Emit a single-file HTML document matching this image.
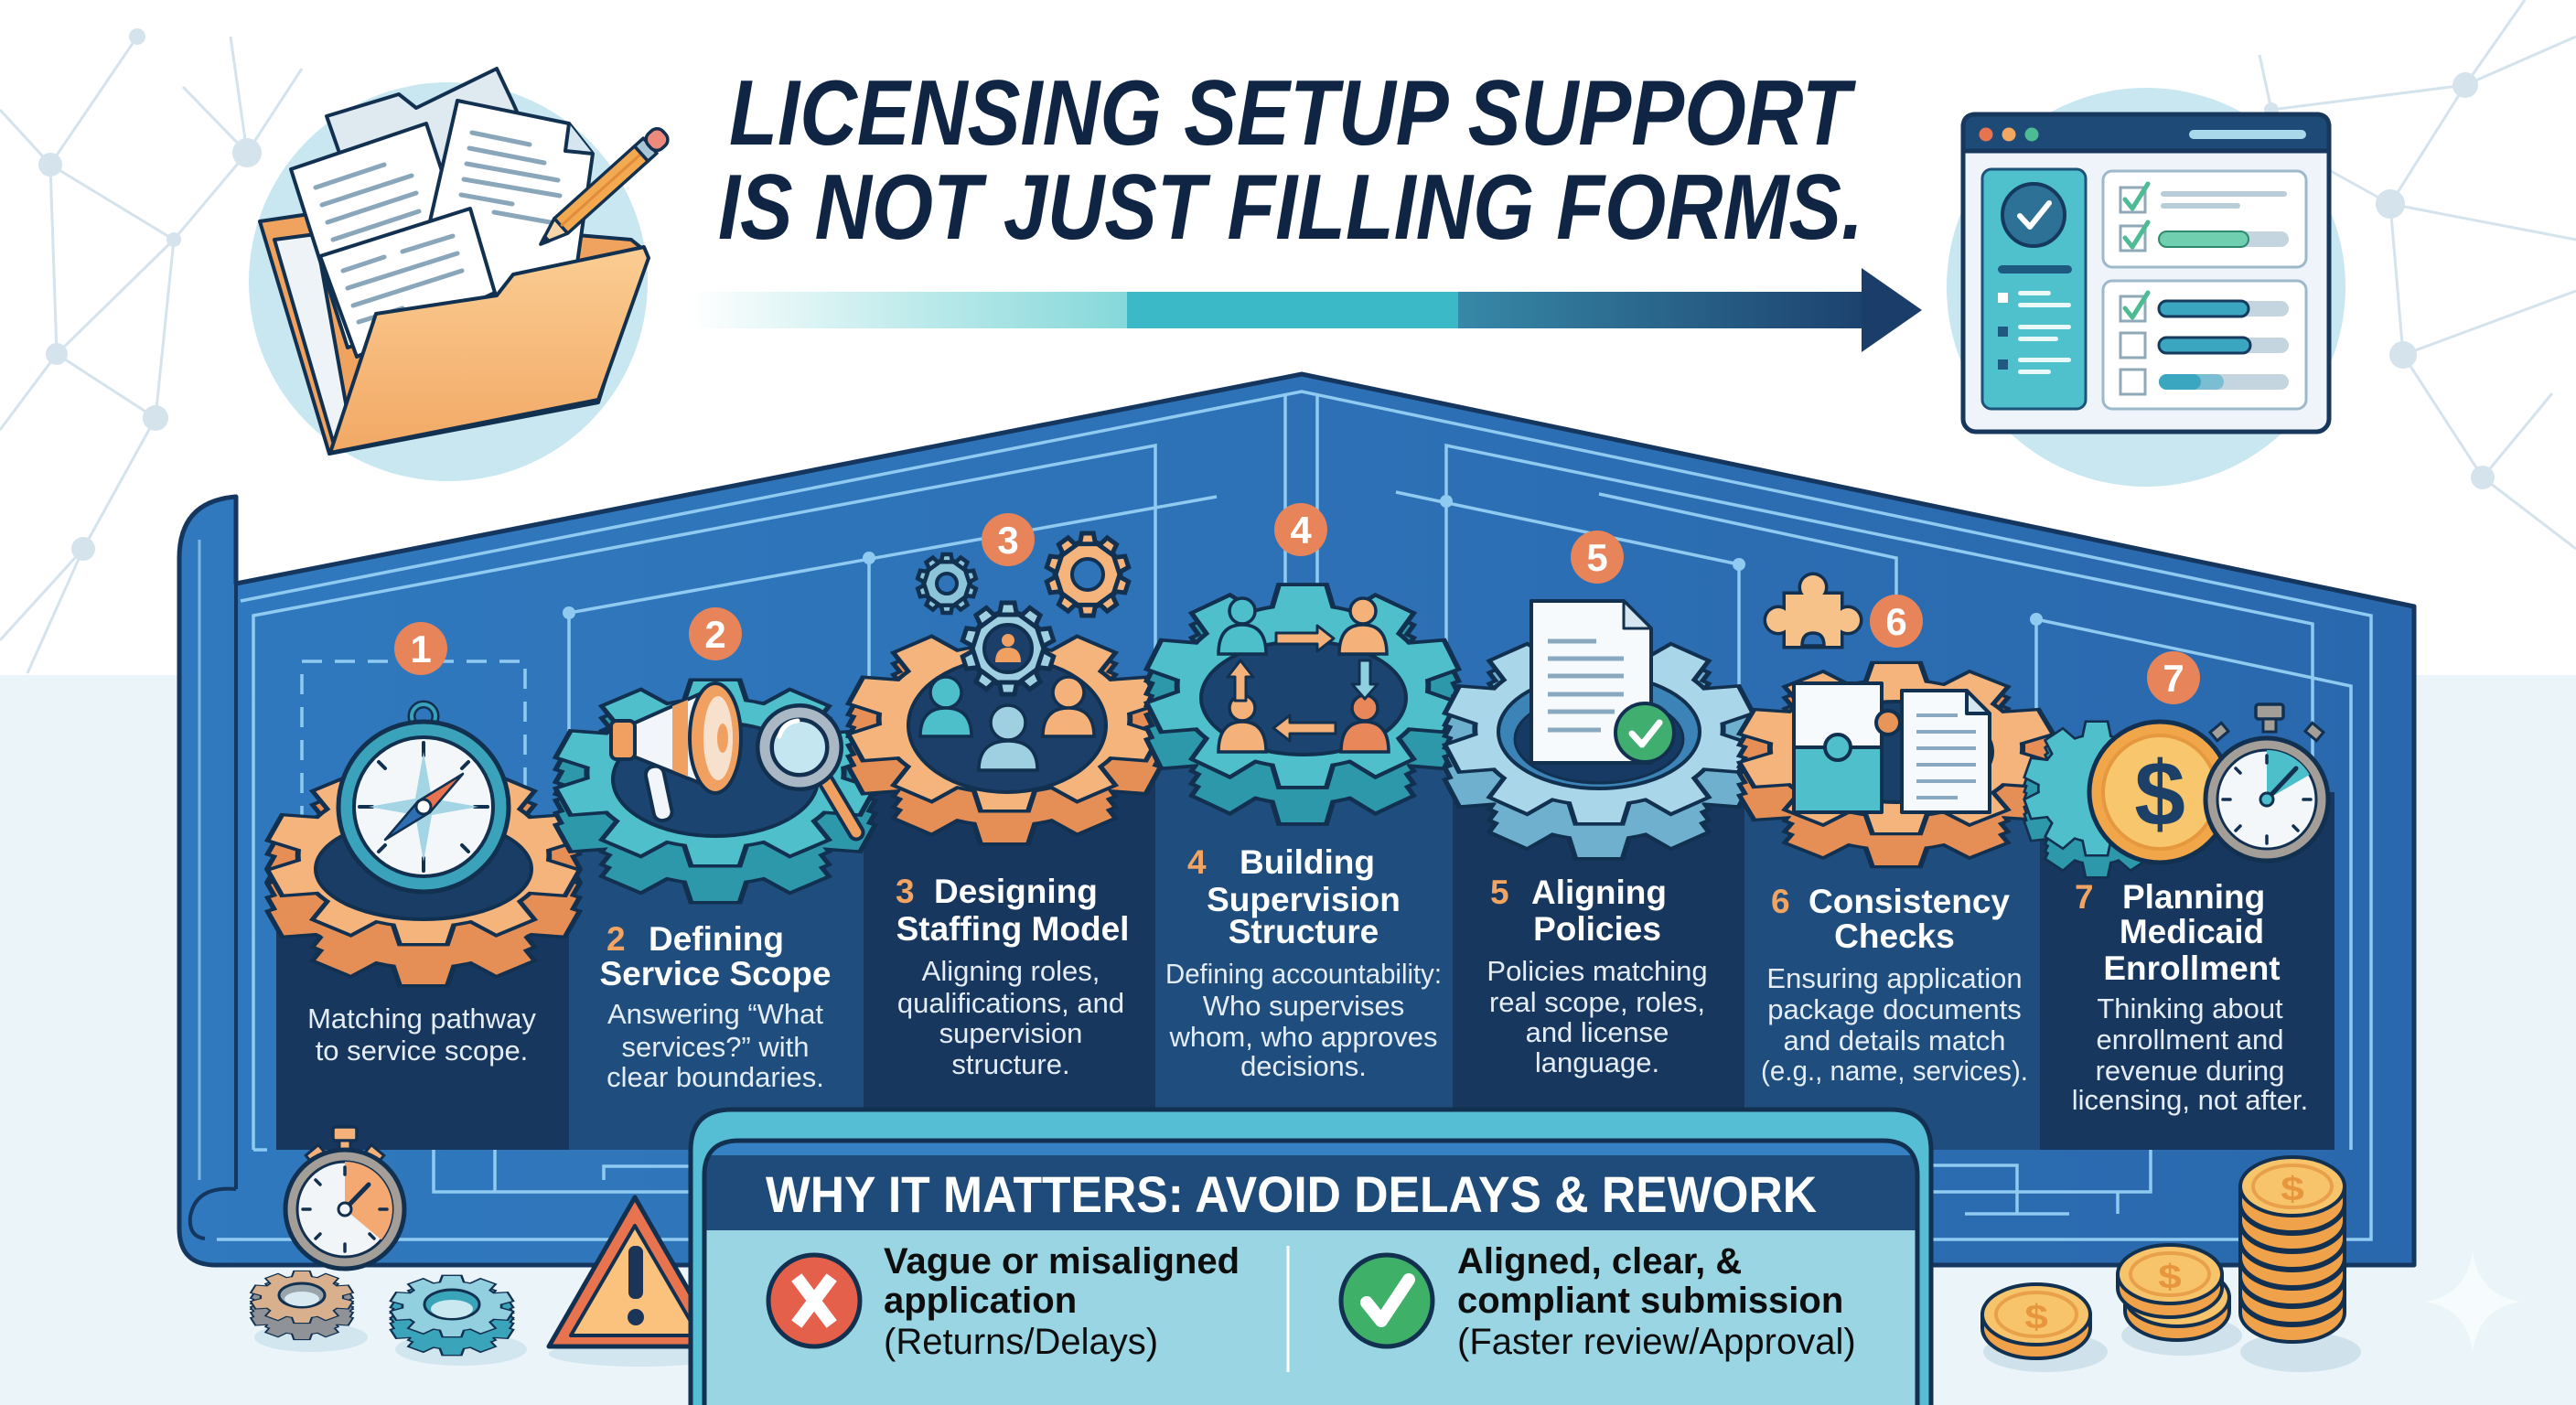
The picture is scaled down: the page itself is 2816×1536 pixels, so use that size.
<!DOCTYPE html>
<html><head><meta charset="utf-8">
<style>
html,body{margin:0;padding:0;background:#fff;width:2816px;height:1536px;overflow:hidden;}
svg{display:block;}
text{font-family:"Liberation Sans",Arial,sans-serif;}
.tt{font-weight:bold;font-size:37px;fill:#ffffff;}
.tm{text-anchor:middle;}
.num{fill:#f2a462;}
.bd{font-size:31px;fill:#e4edf5;text-anchor:middle;}
.bg{font-weight:bold;font-size:40px;fill:#0d0d0d;}
.br{font-size:40px;fill:#0d0d0d;}
.badge{font-weight:bold;font-size:42px;fill:#fff;text-anchor:middle;}
</style></head>
<body>
<svg width="2816" height="1536" viewBox="0 0 2816 1536" xmlns="http://www.w3.org/2000/svg">
<defs>
 <g id="gear">
  <circle r="80"/>
  <polygon points="-14,-100 14,-100 19,-74 -19,-74"/>
  <polygon points="-14,-100 14,-100 19,-74 -19,-74" transform="rotate(36)"/>
  <polygon points="-14,-100 14,-100 19,-74 -19,-74" transform="rotate(72)"/>
  <polygon points="-14,-100 14,-100 19,-74 -19,-74" transform="rotate(108)"/>
  <polygon points="-14,-100 14,-100 19,-74 -19,-74" transform="rotate(144)"/>
  <polygon points="-14,-100 14,-100 19,-74 -19,-74" transform="rotate(180)"/>
  <polygon points="-14,-100 14,-100 19,-74 -19,-74" transform="rotate(216)"/>
  <polygon points="-14,-100 14,-100 19,-74 -19,-74" transform="rotate(252)"/>
  <polygon points="-14,-100 14,-100 19,-74 -19,-74" transform="rotate(288)"/>
  <polygon points="-14,-100 14,-100 19,-74 -19,-74" transform="rotate(324)"/>
 </g>
 <linearGradient id="fadeA" x1="755" y1="0" x2="1232" y2="0" gradientUnits="userSpaceOnUse">
  <stop offset="0" stop-color="#7fd6d8" stop-opacity="0"/>
  <stop offset="1" stop-color="#85d8da"/>
 </linearGradient>
 <linearGradient id="fadeB" x1="1594" y1="0" x2="2040" y2="0" gradientUnits="userSpaceOnUse">
  <stop offset="0" stop-color="#3788a8"/>
  <stop offset="1" stop-color="#1c426e"/>
 </linearGradient>
 <linearGradient id="panelG" x1="196" y1="0" x2="2640" y2="0" gradientUnits="userSpaceOnUse">
  <stop offset="0" stop-color="#3079be"/>
  <stop offset="1" stop-color="#2a68ad"/>
 </linearGradient>
 <linearGradient id="flapG" x1="0" y1="0" x2="0" y2="1">
  <stop offset="0" stop-color="#fbcd93"/>
  <stop offset="1" stop-color="#f2a865"/>
 </linearGradient>
 <clipPath id="boxclip"><path d="M770,1536 L770,1285 Q770,1247 808,1247 L2058,1247 Q2096,1247 2096,1285 L2096,1536 Z"/></clipPath>
</defs>

<!-- background -->
<rect width="2816" height="1536" fill="#ffffff"/>
<rect y="738" width="2816" height="798" fill="#eaf4f9"/>

<!-- network decoration -->
<g stroke="#d5e3ed" stroke-width="3" fill="none">
 <path d="M0,120 L55,180 L150,40 M55,180 L62,387 L170,457 L91,600 L0,700 M62,387 L0,470 M270,167 L200,95 M270,167 L252,40 M270,167 L330,75 M270,167 L190,262 L62,387 M190,262 L170,457 M55,180 L190,262 M91,600 L30,736"/>
 <path d="M2483,120 L2695,93 L2816,40 M2695,93 L2613,223 L2816,262 M2613,223 L2548,187 M2613,223 L2627,388 L2816,318 M2627,388 L2714,522 L2816,600 M2714,522 L2790,430 M2695,93 L2760,0 M2483,120 L2470,60"/>
</g>
<g fill="#d5e3ed">
 <circle cx="55" cy="180" r="13"/><circle cx="270" cy="167" r="16"/><circle cx="62" cy="387" r="12"/>
 <circle cx="170" cy="457" r="14"/><circle cx="91" cy="600" r="13"/><circle cx="150" cy="40" r="9"/><circle cx="190" cy="262" r="8"/>
 <circle cx="2695" cy="93" r="14"/><circle cx="2613" cy="223" r="16"/><circle cx="2627" cy="388" r="15"/>
 <circle cx="2714" cy="522" r="13"/><circle cx="2483" cy="120" r="8"/>
</g>

<!-- folder icon -->
<circle cx="490" cy="308" r="218" fill="#c8e7f0"/>
<g stroke="#12304f" stroke-width="4" stroke-linejoin="round">
 <polygon points="284,242 345,233 690,262 706,275 654,440 360,496" fill="#f0a35f"/>
 <polygon points="300,262 345,256 385,480 365,486" fill="#eef3f7"/>
 <polygon points="357,127 436,103 455,118 543,75 561,113 600,200 400,250" fill="#dfe9f0"/>
 <polygon points="318,185 466,135 530,330 380,380" fill="#ffffff"/>
 <polygon points="500,110 622,135 648,168 625,330 450,330" fill="#ffffff"/>
 <polyline points="622,135 618,165 648,168" fill="#d6e6f0"/>
 <polygon points="350,280 514,228 541,320 390,390" fill="#ffffff"/>
</g>
<g stroke="#8aa6bb" stroke-width="5" stroke-linecap="round">
 <line x1="345" y1="205" x2="420" y2="180"/><line x1="352" y1="224" x2="450" y2="192"/>
 <line x1="358" y1="243" x2="455" y2="211"/><line x1="364" y1="262" x2="458" y2="231"/>
 <line x1="516" y1="145" x2="579" y2="158"/><line x1="513" y1="162" x2="595" y2="178"/>
 <line x1="510" y1="179" x2="610" y2="197"/><line x1="507" y1="196" x2="612" y2="214"/>
 <line x1="504" y1="213" x2="560" y2="223"/><line x1="540" y1="232" x2="618" y2="246"/>
 <line x1="375" y1="296" x2="420" y2="281"/><line x1="440" y1="275" x2="495" y2="258"/>
 <line x1="380" y1="315" x2="500" y2="277"/><line x1="386" y1="334" x2="505" y2="296"/>
 <line x1="392" y1="352" x2="440" y2="337"/>
</g>
<polygon points="411,343 543,323 561,300 704,270 709,282 654,437 361,495" fill="url(#flapG)" stroke="#12304f" stroke-width="4" stroke-linejoin="round"/>
<g transform="translate(591,267) rotate(-42)" stroke="#12304f" stroke-width="3.5" stroke-linejoin="round">
 <polygon points="0,0 30,-11 30,11" fill="#f6d5a8"/>
 <polygon points="0,0 9,-3.5 9,3.5" fill="#12304f"/>
 <rect x="30" y="-11" width="118" height="22" fill="#f3a950"/>
 <line x1="30" y1="0" x2="148" y2="0" stroke="#e08c3a" stroke-width="3"/>
 <rect x="148" y="-11" width="13" height="22" fill="#a9c6d6"/>
 <rect x="160" y="-11" width="22" height="22" rx="9" fill="#ec8a7e"/>
</g>

<!-- checklist icon -->
<circle cx="2346" cy="314" r="218" fill="#c8e7f0"/>
<rect x="2146" y="125" width="400" height="347" rx="14" fill="#eef4f9" stroke="#17385c" stroke-width="5"/>
<path d="M2146,165 L2146,139 Q2146,125 2160,125 L2532,125 Q2546,125 2546,139 L2546,165 Z" fill="#1e4a78" stroke="#17385c" stroke-width="5"/>
<circle cx="2171" cy="147" r="7.5" fill="#e8734f"/><circle cx="2196" cy="147" r="7.5" fill="#f2a860"/><circle cx="2221" cy="147" r="7.5" fill="#4dbb94"/>
<rect x="2393" y="142" width="128" height="10" rx="5" fill="#a8d8ea"/>
<rect x="2167" y="185" width="113" height="262" rx="10" fill="#4fc1cd" stroke="#1e5378" stroke-width="3"/>
<ellipse cx="2223" cy="235" rx="34" ry="34" fill="#2e7196" stroke="#163a5e" stroke-width="4"/>
<polyline points="2208,236 2219,248 2240,222" fill="none" stroke="#fff" stroke-width="6" stroke-linecap="round" stroke-linejoin="round"/>
<rect x="2184" y="290" width="81" height="9" rx="4.5" fill="#1e5a80"/>
<rect x="2184" y="320" width="11" height="11" fill="#fff"/><rect x="2184" y="357" width="11" height="11" fill="#1e5a80"/><rect x="2184" y="393" width="11" height="11" fill="#1e5a80"/>
<g fill="#eaf8fa">
 <rect x="2206" y="318" width="36" height="5" rx="2.5"/><rect x="2206" y="331" width="58" height="5" rx="2.5"/>
 <rect x="2206" y="355" width="58" height="5" rx="2.5"/><rect x="2206" y="368" width="44" height="5" rx="2.5"/>
 <rect x="2206" y="391" width="58" height="5" rx="2.5"/><rect x="2206" y="404" width="36" height="5" rx="2.5"/>
</g>
<rect x="2299" y="187" width="222" height="105" rx="10" fill="#fff" stroke="#9db9c9" stroke-width="3"/>
<rect x="2299" y="307" width="222" height="140" rx="10" fill="#fff" stroke="#9db9c9" stroke-width="3"/>
<g fill="#fff" stroke="#8fa9b8" stroke-width="3">
 <rect x="2318" y="205" width="27" height="27"/><rect x="2318" y="247" width="27" height="27"/>
 <rect x="2318" y="324" width="27" height="27"/><rect x="2318" y="364" width="27" height="27"/><rect x="2318" y="404" width="27" height="27"/>
</g>
<g fill="none" stroke="#4dbb94" stroke-width="5" stroke-linecap="round" stroke-linejoin="round">
 <polyline points="2323,218 2331,228 2348,201"/><polyline points="2323,260 2331,270 2348,243"/><polyline points="2323,337 2331,347 2348,320"/>
</g>
<rect x="2362" y="209" width="138" height="6" rx="3" fill="#b9cdd8"/><rect x="2362" y="222" width="87" height="6" rx="3" fill="#b9cdd8"/>
<rect x="2360" y="253" width="142" height="17" rx="8.5" fill="#c5d5df"/>
<rect x="2360" y="253" width="98" height="17" rx="8.5" fill="#6fcfae" stroke="#2e8a6e" stroke-width="2"/>
<rect x="2360" y="329" width="142" height="17" rx="8.5" fill="#c5d5df"/>
<rect x="2360" y="329" width="98" height="17" rx="8.5" fill="#3ba6c0" stroke="#163a5e" stroke-width="3"/>
<rect x="2360" y="369" width="142" height="17" rx="8.5" fill="#c5d5df"/>
<rect x="2360" y="369" width="100" height="17" rx="8.5" fill="#3ba6c0" stroke="#163a5e" stroke-width="3"/>
<rect x="2360" y="409" width="142" height="17" rx="8.5" fill="#c5d5df"/>
<rect x="2360" y="409" width="71" height="17" rx="8.5" fill="#7bbdd2"/>
<rect x="2360" y="409" width="46" height="17" rx="8.5" fill="#3ba6c0"/>

<!-- title -->
<text x="797" y="158" font-size="101" font-weight="bold" font-style="italic" fill="#0f2543" textLength="1226" lengthAdjust="spacingAndGlyphs">LICENSING SETUP SUPPORT</text>
<text x="785" y="261" font-size="101" font-weight="bold" font-style="italic" fill="#0f2543" textLength="1252" lengthAdjust="spacingAndGlyphs">IS NOT JUST FILLING FORMS.</text>

<!-- arrow -->
<rect x="755" y="319" width="477" height="40" fill="url(#fadeA)"/>
<rect x="1232" y="319" width="362" height="40" fill="#3cb9c6"/>
<rect x="1594" y="319" width="443" height="40" fill="url(#fadeB)"/>
<polygon points="2035,293 2101,339 2035,385" fill="#1b3d69"/>

<!-- blueprint panel -->
<path d="M196,610 Q196,548 258,543 L258,638 L1423,409 L2639,663 L2639,1383 L236,1383 Q196,1383 196,1343 Z" fill="url(#panelG)" stroke="#14365f" stroke-width="5" stroke-linejoin="round"/>
<line x1="258" y1="638" x2="258" y2="1300" stroke="#14365f" stroke-width="4"/>
<line x1="218" y1="590" x2="218" y2="1290" stroke="#7fb6e4" stroke-width="3"/>
<path d="M258,1300 Q214,1296 208,1330 Q206,1352 224,1354" fill="none" stroke="#14365f" stroke-width="4"/>
<g fill="none" stroke="#8fcaf0" stroke-width="3.5">
 <polyline points="263,657 1423,428 2592,673 2592,1355 237,1355"/>
 <line x1="1405" y1="433" x2="1405" y2="650"/><line x1="1440" y1="433" x2="1440" y2="650"/>
 <polyline points="277,1257 277,673 1263,487 1263,750"/>
 <polyline points="1581,713 1581,487 2528,682 2528,1230"/>
 <polyline points="622,900 622,670 1330,543"/>
 <line x1="950" y1="610" x2="950" y2="900"/>
 <line x1="1526" y1="538" x2="1901" y2="617"/><line x1="1901" y1="617" x2="1901" y2="880"/>
 <polyline points="1748,540 2073,610 2073,650"/>
 <polyline points="2226,900 2226,677 2570,750 2570,1257"/>
 <rect x="330" y="723" width="244" height="170" stroke-dasharray="22 14"/>
 <polyline points="277,1257 292,1257"/>
 <polyline points="474,1257 474,1303 755,1303"/><line x1="541" y1="1233" x2="541" y2="1303"/>
 <polyline points="660,1290 660,1275 755,1275"/>
 <polyline points="2110,1274 2205,1274 2205,1327"/><polyline points="2110,1303 2351,1303 2351,1257"/>
 <line x1="2315" y1="1303" x2="2315" y2="1327"/><line x1="2148" y1="1327" x2="2262" y2="1327"/>
</g>
<g fill="#8fcaf0"><circle cx="622" cy="670" r="7"/><circle cx="950" cy="610" r="7"/><circle cx="1581" cy="548" r="7"/><circle cx="1901" cy="617" r="7"/><circle cx="2226" cy="677" r="7"/></g>

<!-- columns -->
<rect x="302" y="935" width="320" height="322" fill="#17375f"/>
<rect x="622" y="845" width="322" height="412" fill="#1f4e7e"/>
<rect x="944" y="786" width="319" height="471" fill="#17375f"/>
<rect x="1263" y="750" width="325" height="507" fill="#1f4e7e"/>
<rect x="1588" y="797" width="319" height="460" fill="#17375f"/>
<rect x="1907" y="818" width="323" height="439" fill="#1f4e7e"/>
<rect x="2230" y="866" width="322" height="391" fill="#17375f"/>

<!-- GEAR 1 -->
<g fill="#12304f" stroke="#12304f" stroke-width="7">
 <use href="#gear" transform="translate(463,980) scale(1.68,0.96)"/>
 <use href="#gear" transform="translate(463,965) scale(1.68,0.96)"/>
 <use href="#gear" transform="translate(463,950) scale(1.68,0.96)"/>
</g>
<g fill="#e58f56">
 <use href="#gear" transform="translate(463,980) scale(1.68,0.96)"/>
 <use href="#gear" transform="translate(463,965) scale(1.68,0.96)"/>
 <use href="#gear" transform="translate(463,950) scale(1.68,0.96)"/>
</g>
<use href="#gear" fill="#12304f" stroke="#12304f" stroke-width="7" transform="translate(463,935) scale(1.68,0.96)"/>
<use href="#gear" fill="#f5b47c" transform="translate(463,935) scale(1.68,0.96)"/>
<ellipse cx="463" cy="950" rx="118" ry="55" fill="#1a3d66" stroke="#12304f" stroke-width="4"/>
<!-- compass -->
<circle cx="463" cy="783" r="13" fill="none" stroke="#12304f" stroke-width="9"/>
<circle cx="463" cy="783" r="13" fill="none" stroke="#3aa3bb" stroke-width="4"/>
<rect x="455" y="794" width="16" height="14" fill="#3aa3bb" stroke="#12304f" stroke-width="3"/>
<circle cx="463" cy="882" r="93" fill="#3aa3bb" stroke="#12304f" stroke-width="5"/>
<circle cx="463" cy="882" r="76" fill="#f3f7fa" stroke="#12304f" stroke-width="4"/>
<g stroke="#12304f" stroke-width="4" stroke-linecap="round">
 <line x1="463" y1="812" x2="463" y2="826"/><line x1="463" y1="938" x2="463" y2="952"/>
 <line x1="393" y1="882" x2="407" y2="882"/><line x1="519" y1="882" x2="533" y2="882"/>
 <line x1="414" y1="833" x2="421" y2="840"/><line x1="505" y1="924" x2="512" y2="931"/>
 <line x1="512" y1="833" x2="505" y2="840"/><line x1="414" y1="931" x2="421" y2="924"/>
</g>
<polygon points="463,822 472,873 523,882 472,891 463,942 454,891 403,882 454,873" fill="#a3d5e5"/>
<polygon points="506,846 470,888 457,876" fill="#e8734f" stroke="#12304f" stroke-width="2.5" stroke-linejoin="round"/>
<polygon points="421,918 457,876 470,888" fill="#2d6fb2" stroke="#12304f" stroke-width="2.5" stroke-linejoin="round"/>
<circle cx="463" cy="882" r="8" fill="#fff" stroke="#12304f" stroke-width="3"/>

<!-- GEAR 2 -->
<g fill="#12304f" stroke="#12304f" stroke-width="7">
 <use href="#gear" transform="translate(782,885) scale(1.72,1.0)"/>
 <use href="#gear" transform="translate(782,872) scale(1.72,1.0)"/>
 <use href="#gear" transform="translate(782,858) scale(1.72,1.0)"/>
</g>
<g fill="#2e98ab">
 <use href="#gear" transform="translate(782,885) scale(1.72,1.0)"/>
 <use href="#gear" transform="translate(782,872) scale(1.72,1.0)"/>
 <use href="#gear" transform="translate(782,858) scale(1.72,1.0)"/>
</g>
<use href="#gear" fill="#12304f" stroke="#12304f" stroke-width="7" transform="translate(782,845) scale(1.72,1.0)"/>
<use href="#gear" fill="#4fbfcb" transform="translate(782,845) scale(1.72,1.0)"/>
<ellipse cx="782" cy="852" rx="112" ry="62" fill="#1b4470" stroke="#12304f" stroke-width="4"/>
<!-- megaphone -->
<rect x="704" y="838" width="20" height="60" rx="9" transform="rotate(-12 714 838)" fill="#f2f6fa" stroke="#12304f" stroke-width="4"/>
<polygon points="690,792 780,752 780,862 690,826" fill="#f2f6fa" stroke="#12304f" stroke-width="4" stroke-linejoin="round"/>
<polygon points="735,772 752,765 752,849 735,842" fill="#f0a060"/>
<rect x="668" y="788" width="26" height="42" rx="6" fill="#f0a060" stroke="#12304f" stroke-width="4"/>
<ellipse cx="782" cy="807" rx="28" ry="60" fill="#f0a060" stroke="#12304f" stroke-width="4"/>
<ellipse cx="785" cy="807" rx="16" ry="46" fill="#f7e1cc"/>
<ellipse cx="790" cy="807" rx="6" ry="16" fill="#f0a060"/>
<!-- magnifier -->
<line x1="898" y1="846" x2="936" y2="910" stroke="#12304f" stroke-width="19" stroke-linecap="round"/>
<line x1="898" y1="846" x2="936" y2="910" stroke="#f0a060" stroke-width="11" stroke-linecap="round"/>
<circle cx="874" cy="817" r="38" fill="#c3e6f0" stroke="#12304f" stroke-width="20"/>
<circle cx="874" cy="817" r="38" fill="none" stroke="#a9b8c4" stroke-width="11"/>
<path d="M852,805 Q856,790 872,788" fill="none" stroke="#fff" stroke-width="5" stroke-linecap="round"/>

<!-- GEAR 3 -->
<g fill="#12304f" stroke="#12304f" stroke-width="7">
 <use href="#gear" transform="translate(1098,822) scale(1.68,0.99)"/>
 <use href="#gear" transform="translate(1098,810) scale(1.68,0.99)"/>
 <use href="#gear" transform="translate(1098,798) scale(1.68,0.99)"/>
</g>
<g fill="#e58f56">
 <use href="#gear" transform="translate(1098,822) scale(1.68,0.99)"/>
 <use href="#gear" transform="translate(1098,810) scale(1.68,0.99)"/>
 <use href="#gear" transform="translate(1098,798) scale(1.68,0.99)"/>
</g>
<use href="#gear" fill="#12304f" stroke="#12304f" stroke-width="7" transform="translate(1098,786) scale(1.68,0.99)"/>
<use href="#gear" fill="#f5b47c" transform="translate(1098,786) scale(1.68,0.99)"/>
<ellipse cx="1101" cy="793" rx="108" ry="73" fill="#1b3f69" stroke="#12304f" stroke-width="4"/>
<!-- small gears -->
<use href="#gear" fill="#8cc4da" stroke="#12304f" stroke-width="14" transform="translate(1035,638) scale(0.32)"/>
<circle cx="1035" cy="638" r="11" fill="#2f73b9" stroke="#12304f" stroke-width="4"/>
<use href="#gear" fill="#f5b47c" stroke="#12304f" stroke-width="11" transform="translate(1189,628) scale(0.45)"/>
<circle cx="1189" cy="628" r="17" fill="#2f73b9" stroke="#12304f" stroke-width="4"/>
<use href="#gear" fill="#9fd0e2" stroke="#12304f" stroke-width="10" transform="translate(1102,709) scale(0.5)"/>
<circle cx="1102" cy="709" r="26" fill="#1b3f69" stroke="#12304f" stroke-width="4"/>
<path d="M1088,724 Q1088,708 1102,708 Q1116,708 1116,724 Z" fill="#f0a060"/>
<circle cx="1102" cy="700" r="7" fill="#f0a060"/>
<!-- people -->
<g stroke="#12304f" stroke-width="3.5">
 <g fill="#4cbfcb"><circle cx="1034" cy="757" r="17"/><path d="M1006,805 Q1006,774 1034,774 Q1062,774 1062,805 Z"/></g>
 <g fill="#f4b27a"><circle cx="1168" cy="757" r="17"/><path d="M1140,805 Q1140,774 1168,774 Q1196,774 1196,805 Z"/></g>
 <g fill="#9fd0e2"><circle cx="1102" cy="790" r="19"/><path d="M1070,842 Q1070,810 1102,810 Q1134,810 1134,842 Z"/></g>
</g>

<!-- GEAR 4 -->
<g fill="#12304f" stroke="#12304f" stroke-width="7">
 <use href="#gear" transform="translate(1424,790) scale(1.68,1.09)"/>
 <use href="#gear" transform="translate(1424,777) scale(1.68,1.09)"/>
 <use href="#gear" transform="translate(1424,763) scale(1.68,1.09)"/>
</g>
<g fill="#2e98ab">
 <use href="#gear" transform="translate(1424,790) scale(1.68,1.09)"/>
 <use href="#gear" transform="translate(1424,777) scale(1.68,1.09)"/>
 <use href="#gear" transform="translate(1424,763) scale(1.68,1.09)"/>
</g>
<use href="#gear" fill="#12304f" stroke="#12304f" stroke-width="7" transform="translate(1424,750) scale(1.68,1.09)"/>
<use href="#gear" fill="#4fbfcb" transform="translate(1424,750) scale(1.68,1.09)"/>
<ellipse cx="1425" cy="763" rx="112" ry="62" fill="#1b4470" stroke="#12304f" stroke-width="4"/>
<g stroke="#12304f" stroke-width="3.5">
 <g fill="#4cbfcb"><circle cx="1358" cy="668" r="14"/><path d="M1332,715 Q1332,683 1358,683 Q1384,683 1384,715 Z"/></g>
 <g fill="#f4b27a"><circle cx="1490" cy="668" r="14"/><path d="M1464,715 Q1464,683 1490,683 Q1516,683 1516,715 Z"/></g>
 <g fill="#f4b27a"><circle cx="1358" cy="774" r="14"/><path d="M1332,822 Q1332,789 1358,789 Q1384,789 1384,822 Z"/></g>
 <g fill="#e8875a"><circle cx="1492" cy="774" r="14"/><path d="M1466,822 Q1466,789 1492,789 Q1518,789 1518,822 Z"/></g>
</g>
<g stroke="#12304f" stroke-width="3" stroke-linejoin="round">
 <polygon points="1395,692 1440,692 1440,684 1458,698 1440,712 1440,704 1395,704" fill="#f4b27a"/>
 <polygon points="1486,722 1498,722 1498,748 1506,748 1492,764 1478,748 1486,748" fill="#8fd0e0"/>
 <polygon points="1460,790 1410,790 1410,782 1392,796 1410,810 1410,802 1460,802" fill="#f4b27a"/>
 <polygon points="1350,766 1350,740 1342,740 1356,722 1370,740 1362,740 1362,766" fill="#f4b27a"/>
</g>

<!-- GEAR 5 -->
<g fill="#12304f" stroke="#12304f" stroke-width="7">
 <use href="#gear" transform="translate(1748,835) scale(1.66,1.02)"/>
 <use href="#gear" transform="translate(1748,822) scale(1.66,1.02)"/>
 <use href="#gear" transform="translate(1748,810) scale(1.66,1.02)"/>
</g>
<g fill="#6fb0cf">
 <use href="#gear" transform="translate(1748,835) scale(1.66,1.02)"/>
 <use href="#gear" transform="translate(1748,822) scale(1.66,1.02)"/>
 <use href="#gear" transform="translate(1748,810) scale(1.66,1.02)"/>
</g>
<use href="#gear" fill="#12304f" stroke="#12304f" stroke-width="7" transform="translate(1748,797) scale(1.66,1.02)"/>
<use href="#gear" fill="#a9d6e8" transform="translate(1748,797) scale(1.66,1.02)"/>
<ellipse cx="1748" cy="800" rx="110" ry="62" fill="#3c84b8" stroke="#12304f" stroke-width="4"/>
<ellipse cx="1748" cy="808" rx="92" ry="48" fill="#163a63" stroke="#12304f" stroke-width="3"/>
<path d="M1674,657 L1775,657 L1805,687 L1805,834 L1674,834 Z" fill="#f7fafc" stroke="#12304f" stroke-width="4" stroke-linejoin="round"/>
<path d="M1775,657 L1775,687 L1805,687 Z" fill="#d6e6f0" stroke="#12304f" stroke-width="3" stroke-linejoin="round"/>
<g stroke="#8aa9c0" stroke-width="5">
 <line x1="1692" y1="701" x2="1745" y2="701"/><line x1="1692" y1="720" x2="1775" y2="720"/>
 <line x1="1692" y1="739" x2="1775" y2="739"/><line x1="1692" y1="759" x2="1775" y2="759"/>
 <line x1="1692" y1="778" x2="1765" y2="778"/><line x1="1692" y1="798" x2="1750" y2="798"/>
</g>
<circle cx="1798" cy="801" r="32" fill="#3fae6e" stroke="#12304f" stroke-width="4"/>
<polyline points="1784,802 1795,814 1814,790" fill="none" stroke="#fff" stroke-width="7" stroke-linecap="round" stroke-linejoin="round"/>

<!-- GEAR 6 -->
<g fill="#12304f" stroke="#12304f" stroke-width="7">
 <use href="#gear" transform="translate(2073,854) scale(1.69,0.92)"/>
 <use href="#gear" transform="translate(2073,842) scale(1.69,0.92)"/>
 <use href="#gear" transform="translate(2073,830) scale(1.69,0.92)"/>
</g>
<g fill="#e58f56">
 <use href="#gear" transform="translate(2073,854) scale(1.69,0.92)"/>
 <use href="#gear" transform="translate(2073,842) scale(1.69,0.92)"/>
 <use href="#gear" transform="translate(2073,830) scale(1.69,0.92)"/>
</g>
<use href="#gear" fill="#12304f" stroke="#12304f" stroke-width="7" transform="translate(2073,818) scale(1.69,0.92)"/>
<use href="#gear" fill="#f5b47c" transform="translate(2073,818) scale(1.69,0.92)"/>
<ellipse cx="2073" cy="822" rx="105" ry="55" fill="#1a3f69" stroke="#12304f" stroke-width="4"/>
<g stroke="#12304f" stroke-width="4" stroke-linejoin="round">
 <rect x="1961" y="747" width="96" height="70" fill="#f7fafc"/>
 <rect x="1961" y="817" width="96" height="71" fill="#4fbfcb"/>
 <circle cx="2009" cy="817" r="14" fill="#4fbfcb"/>
 <circle cx="2064" cy="790" r="13" fill="#e8955a"/>
 <path d="M2079,755 L2150,755 L2175,780 L2175,888 L2079,888 Z" fill="#f7fafc"/>
 <path d="M2150,755 L2150,780 L2175,780 Z" fill="#d6e6f0"/>
</g>
<g stroke="#8aa9c0" stroke-width="4">
 <line x1="2095" y1="782" x2="2140" y2="782"/><line x1="2095" y1="800" x2="2160" y2="800"/>
 <line x1="2095" y1="818" x2="2160" y2="818"/><line x1="2095" y1="836" x2="2160" y2="836"/>
 <line x1="2095" y1="854" x2="2160" y2="854"/><line x1="2095" y1="872" x2="2140" y2="872"/>
</g>
<!-- puzzle above -->
<g fill="#12304f" stroke="#12304f" stroke-width="7">
 <rect x="1952" y="650" width="60" height="56"/><circle cx="1982" cy="642" r="13"/>
 <circle cx="1944" cy="678" r="13"/><circle cx="2020" cy="678" r="13"/>
</g>
<g fill="#f6c28a">
 <rect x="1952" y="650" width="60" height="56"/><circle cx="1982" cy="642" r="13"/>
 <circle cx="1944" cy="678" r="13"/><circle cx="2020" cy="678" r="13"/>
</g>
<path d="M1970,706 Q1970,692 1982,692 Q1994,692 1994,706 Z" fill="#2f6fb4" stroke="#12304f" stroke-width="3.5"/>

<!-- GEAR 7 + coin + stopwatch -->
<g fill="#12304f" stroke="#12304f" stroke-width="7">
 <use href="#gear" transform="translate(2292,886) scale(0.78,0.72)"/>
 <use href="#gear" transform="translate(2292,878) scale(0.78,0.72)"/>
 <use href="#gear" transform="translate(2292,870) scale(0.78,0.72)"/>
</g>
<g fill="#2e98ab">
 <use href="#gear" transform="translate(2292,886) scale(0.78,0.72)"/>
 <use href="#gear" transform="translate(2292,878) scale(0.78,0.72)"/>
 <use href="#gear" transform="translate(2292,870) scale(0.78,0.72)"/>
</g>
<use href="#gear" fill="#12304f" stroke="#12304f" stroke-width="7" transform="translate(2292,862) scale(0.78,0.72)"/>
<use href="#gear" fill="#4fbfcb" transform="translate(2292,862) scale(0.78,0.72)"/>
<circle cx="2361" cy="866" r="77" fill="#f0a649" stroke="#12304f" stroke-width="5"/>
<circle cx="2361" cy="866" r="62" fill="#f8c66c" stroke="#e6983f" stroke-width="4"/>
<text x="2361" y="902" font-size="100" font-weight="bold" fill="#1d4068" text-anchor="middle">$</text>
<rect x="2466" y="770" width="30" height="16" rx="3" fill="#a39e98" stroke="#12304f" stroke-width="3.5"/>
<rect x="2474" y="786" width="14" height="14" fill="#a39e98" stroke="#12304f" stroke-width="3"/>
<rect x="2418" y="794" width="16" height="12" fill="#a39e98" stroke="#12304f" stroke-width="3" transform="rotate(-40 2426 800)"/>
<rect x="2522" y="794" width="16" height="12" fill="#a39e98" stroke="#12304f" stroke-width="3" transform="rotate(40 2530 800)"/>
<circle cx="2478" cy="874" r="67" fill="#a39e98" stroke="#12304f" stroke-width="5"/>
<circle cx="2478" cy="874" r="54" fill="#f3f7fa" stroke="#12304f" stroke-width="3"/>
<path d="M2478,874 L2478,820 A54,54 0 0 1 2524.8,847 Z" fill="#4cbfcb"/>
<g stroke="#12304f" stroke-width="3.5" stroke-linecap="round">
 <line x1="2478" y1="826" x2="2478" y2="834"/><line x1="2478" y1="914" x2="2478" y2="922"/>
 <line x1="2430" y1="874" x2="2438" y2="874"/><line x1="2518" y1="874" x2="2526" y2="874"/>
 <line x1="2444" y1="840" x2="2449" y2="845"/><line x1="2507" y1="903" x2="2512" y2="908"/>
 <line x1="2444" y1="908" x2="2449" y2="903"/>
</g>
<line x1="2478" y1="874" x2="2510" y2="840" stroke="#12304f" stroke-width="5" stroke-linecap="round"/>
<circle cx="2478" cy="874" r="7" fill="#4cbfcb" stroke="#12304f" stroke-width="3"/>

<!-- badges -->
<g fill="#e8845a">
 <circle cx="460" cy="709" r="29"/><circle cx="782" cy="693" r="29"/><circle cx="1102" cy="590" r="29"/>
 <circle cx="1422" cy="579" r="29"/><circle cx="1746" cy="609" r="29"/><circle cx="2073" cy="679" r="29"/><circle cx="2376" cy="741" r="29"/>
</g>
<text class="badge" x="460" y="724">1</text><text class="badge" x="782" y="708">2</text><text class="badge" x="1102" y="605">3</text>
<text class="badge" x="1422" y="594">4</text><text class="badge" x="1746" y="624">5</text><text class="badge" x="2073" y="694">6</text><text class="badge" x="2376" y="756">7</text>

<!-- column text -->
<text class="bd" x="461" y="1124">Matching pathway</text>
<text class="bd" x="461" y="1159">to service scope.</text>

<text class="tt" x="663" y="1039"><tspan class="num">2</tspan><tspan x="709">Defining</tspan></text>
<text class="tt tm" x="782" y="1077">Service Scope</text>
<text class="bd" x="782" y="1119">Answering “What</text>
<text class="bd" x="782" y="1155">services?” with</text>
<text class="bd" x="782" y="1188">clear boundaries.</text>

<text class="tt" x="979" y="987"><tspan class="num">3</tspan><tspan x="1021">Designing</tspan></text>
<text class="tt tm" x="1107" y="1028">Staffing Model</text>
<text class="bd" x="1105" y="1072">Aligning roles,</text>
<text class="bd" x="1105" y="1107">qualifications, and</text>
<text class="bd" x="1105" y="1140">supervision</text>
<text class="bd" x="1105" y="1174">structure.</text>

<text class="tt" x="1298" y="955"><tspan class="num">4</tspan><tspan x="1355">Building</tspan></text>
<text class="tt tm" x="1425" y="996">Supervision</text>
<text class="tt tm" x="1425" y="1031">Structure</text>
<text class="bd" x="1425" y="1075" textLength="302" lengthAdjust="spacingAndGlyphs">Defining accountability:</text>
<text class="bd" x="1425" y="1110">Who supervises</text>
<text class="bd" x="1425" y="1144">whom, who approves</text>
<text class="bd" x="1425" y="1176">decisions.</text>

<text class="tt" x="1629" y="988"><tspan class="num">5</tspan><tspan x="1674">Aligning</tspan></text>
<text class="tt tm" x="1746" y="1028">Policies</text>
<text class="bd" x="1746" y="1072">Policies matching</text>
<text class="bd" x="1746" y="1106">real scope, roles,</text>
<text class="bd" x="1746" y="1139">and license</text>
<text class="bd" x="1746" y="1172">language.</text>

<text class="tt" x="1936" y="998"><tspan class="num">6</tspan><tspan x="1977">Consistency</tspan></text>
<text class="tt tm" x="2071" y="1036">Checks</text>
<text class="bd" x="2071" y="1080">Ensuring application</text>
<text class="bd" x="2071" y="1114">package documents</text>
<text class="bd" x="2071" y="1148">and details match</text>
<text class="bd" x="2071" y="1181" textLength="292" lengthAdjust="spacingAndGlyphs">(e.g., name, services).</text>

<text class="tt" x="2268" y="993"><tspan class="num">7</tspan><tspan x="2320">Planning</tspan></text>
<text class="tt tm" x="2396" y="1031">Medicaid</text>
<text class="tt tm" x="2396" y="1071">Enrollment</text>
<text class="bd" x="2394" y="1113">Thinking about</text>
<text class="bd" x="2394" y="1147">enrollment and</text>
<text class="bd" x="2394" y="1181">revenue during</text>
<text class="bd" x="2394" y="1213">licensing, not after.</text>

<!-- bottom-left decorations -->
<ellipse cx="340" cy="1462" rx="62" ry="16" fill="#d2e6f0"/>
<ellipse cx="504" cy="1475" rx="72" ry="18" fill="#d2e6f0"/>
<ellipse cx="700" cy="1480" rx="100" ry="14" fill="#d2e6f0"/>
<!-- stopwatch -->
<rect x="364" y="1232" width="26" height="15" rx="3" fill="#f4b27a" stroke="#12304f" stroke-width="3.5"/>
<rect x="371" y="1247" width="12" height="12" fill="#f4b27a" stroke="#12304f" stroke-width="3"/>
<rect x="336" y="1256" width="18" height="12" fill="#f4b27a" stroke="#12304f" stroke-width="3" transform="rotate(-40 345 1262)"/>
<rect x="400" y="1256" width="18" height="12" fill="#f4b27a" stroke="#12304f" stroke-width="3" transform="rotate(40 409 1262)"/>
<circle cx="377" cy="1322" r="65" fill="#a39e98" stroke="#12304f" stroke-width="5"/>
<circle cx="377" cy="1322" r="52" fill="#f2f5f7" stroke="#12304f" stroke-width="3"/>
<path d="M377,1322 L377,1270 A52,52 0 0 1 416.8,1355.4 Z" fill="#f4a872"/>
<g stroke="#12304f" stroke-width="3.5" stroke-linecap="round">
 <line x1="377" y1="1276" x2="377" y2="1284"/><line x1="377" y1="1360" x2="377" y2="1368"/>
 <line x1="331" y1="1322" x2="339" y2="1322"/><line x1="415" y1="1322" x2="423" y2="1322"/>
 <line x1="345" y1="1290" x2="350" y2="1295"/><line x1="404" y1="1349" x2="409" y2="1354"/>
 <line x1="345" y1="1354" x2="350" y2="1349"/>
</g>
<line x1="377" y1="1322" x2="403" y2="1295" stroke="#12304f" stroke-width="5" stroke-linecap="round"/>
<circle cx="377" cy="1322" r="7" fill="#f2f5f7" stroke="#12304f" stroke-width="3"/>
<!-- floor gear 1 -->
<g fill="#12304f" stroke="#12304f" stroke-width="8">
 <use href="#gear" transform="translate(330,1436) scale(0.55,0.28)"/>
 <use href="#gear" transform="translate(330,1430) scale(0.55,0.28)"/>
 <use href="#gear" transform="translate(330,1424) scale(0.55,0.28)"/>
</g>
<g fill="#8f9296">
 <use href="#gear" transform="translate(330,1436) scale(0.55,0.28)"/>
 <use href="#gear" transform="translate(330,1430) scale(0.55,0.28)"/>
 <use href="#gear" transform="translate(330,1424) scale(0.55,0.28)"/>
</g>
<use href="#gear" fill="#12304f" stroke="#12304f" stroke-width="8" transform="translate(330,1418) scale(0.55,0.28)"/>
<use href="#gear" fill="#d8b08d" transform="translate(330,1418) scale(0.55,0.28)"/>
<ellipse cx="330" cy="1416" rx="25" ry="13" fill="#9aa4ab" stroke="#12304f" stroke-width="3"/>
<ellipse cx="330" cy="1420" rx="19" ry="8" fill="#d9e9f1"/>
<!-- floor gear 2 -->
<g fill="#12304f" stroke="#12304f" stroke-width="8">
 <use href="#gear" transform="translate(494,1448) scale(0.66,0.33)"/>
 <use href="#gear" transform="translate(494,1441) scale(0.66,0.33)"/>
 <use href="#gear" transform="translate(494,1435) scale(0.66,0.33)"/>
</g>
<g fill="#3aa4ba">
 <use href="#gear" transform="translate(494,1448) scale(0.66,0.33)"/>
 <use href="#gear" transform="translate(494,1441) scale(0.66,0.33)"/>
 <use href="#gear" transform="translate(494,1435) scale(0.66,0.33)"/>
</g>
<use href="#gear" fill="#12304f" stroke="#12304f" stroke-width="8" transform="translate(494,1428) scale(0.66,0.33)"/>
<use href="#gear" fill="#92d0e0" transform="translate(494,1428) scale(0.66,0.33)"/>
<ellipse cx="494" cy="1426" rx="30" ry="16" fill="#3aa4ba" stroke="#12304f" stroke-width="3"/>
<ellipse cx="494" cy="1431" rx="23" ry="10" fill="#c9e8f0"/>
<!-- warning triangle -->
<polygon points="694,1309 600,1472 788,1472" fill="#e8734f" stroke="#12304f" stroke-width="5" stroke-linejoin="round"/>
<polygon points="694,1340 624,1460 764,1460" fill="#fbc27d" stroke="#12304f" stroke-width="4" stroke-linejoin="round"/>
<rect x="687" y="1362" width="16" height="58" rx="7" fill="#1b3558"/>
<circle cx="695" cy="1440" r="9" fill="#1b3558"/>

<!-- bottom box -->
<path d="M755,1536 L755,1258 Q755,1213 800,1213 L2066,1213 Q2111,1213 2111,1258 L2111,1536" fill="#55bdd4" stroke="#12304f" stroke-width="5"/>
<g clip-path="url(#boxclip)">
 <rect x="770" y="1247" width="1326" height="289" fill="#9ad5e3"/>
 <rect x="770" y="1247" width="1326" height="98" fill="#1e4b7a"/>
 <rect x="770" y="1247" width="1326" height="16" fill="#3581c4"/>
</g>
<path d="M770,1536 L770,1285 Q770,1247 808,1247 L2058,1247 Q2096,1247 2096,1285 L2096,1536" fill="none" stroke="#12304f" stroke-width="5"/>
<text x="837" y="1325" font-size="56" font-weight="bold" fill="#ffffff" textLength="1149" lengthAdjust="spacingAndGlyphs">WHY IT MATTERS: AVOID DELAYS &amp; REWORK</text>
<circle cx="890" cy="1422" r="50" fill="#e5604a" stroke="#12304f" stroke-width="5"/>
<g stroke="#fff" stroke-width="14" stroke-linecap="square">
 <line x1="875" y1="1402" x2="905" y2="1442"/><line x1="905" y1="1402" x2="875" y2="1442"/>
</g>
<text class="bg" x="966" y="1392">Vague or misaligned</text>
<text class="bg" x="966" y="1435">application</text>
<text class="br" x="966" y="1480">(Returns/Delays)</text>
<line x1="1408" y1="1362" x2="1408" y2="1500" stroke="#ffffff" stroke-width="3"/>
<circle cx="1516" cy="1422" r="50" fill="#3fb068" stroke="#12304f" stroke-width="5"/>
<polyline points="1494,1424 1510,1444 1540,1399" fill="none" stroke="#fff" stroke-width="14" stroke-linecap="round" stroke-linejoin="round"/>
<text class="bg" x="1593" y="1392">Aligned, clear, &amp;</text>
<text class="bg" x="1593" y="1435">compliant submission</text>
<text class="br" x="1593" y="1480">(Faster review/Approval)</text>

<!-- coins -->
<ellipse cx="2236" cy="1478" rx="68" ry="22" fill="#cfe2ec"/>
<ellipse cx="2385" cy="1460" rx="66" ry="22" fill="#cfe2ec"/>
<ellipse cx="2515" cy="1478" rx="66" ry="22" fill="#cfe2ec"/>
<g stroke="#12304f" stroke-width="4">
 <path d="M2167,1437 L2167,1452 A59,33 0 0 0 2285,1452 L2285,1437 Z" fill="#f0a24a"/>
 <ellipse cx="2226" cy="1437" rx="59" ry="33" fill="#f7c46c"/>
 <path d="M2323,1418 L2323,1433 A57,32 0 0 0 2437,1433 L2437,1418 Z" fill="#f0a24a"/>
 <ellipse cx="2380" cy="1418" rx="57" ry="32" fill="#f7c46c"/>
 <path d="M2315,1393 L2315,1408 A57,32 0 0 0 2429,1408 L2429,1393 Z" fill="#f0a24a"/>
 <ellipse cx="2372" cy="1393" rx="57" ry="32" fill="#f7c46c"/>
 <path d="M2449,1417 L2449,1435 A57,32 0 0 0 2563,1435 L2563,1417 Z" fill="#f0a24a"/>
 <ellipse cx="2506" cy="1417" rx="57" ry="32" fill="#f7c46c"/>
 <path d="M2449,1397 L2449,1415 A57,32 0 0 0 2563,1415 L2563,1397 Z" fill="#f0a24a"/>
 <ellipse cx="2506" cy="1397" rx="57" ry="32" fill="#f7c46c"/>
 <path d="M2449,1377 L2449,1395 A57,32 0 0 0 2563,1395 L2563,1377 Z" fill="#f0a24a"/>
 <ellipse cx="2506" cy="1377" rx="57" ry="32" fill="#f7c46c"/>
 <path d="M2449,1357 L2449,1375 A57,32 0 0 0 2563,1375 L2563,1357 Z" fill="#f0a24a"/>
 <ellipse cx="2506" cy="1357" rx="57" ry="32" fill="#f7c46c"/>
 <path d="M2449,1337 L2449,1355 A57,32 0 0 0 2563,1355 L2563,1337 Z" fill="#f0a24a"/>
 <ellipse cx="2506" cy="1337" rx="57" ry="32" fill="#f7c46c"/>
 <path d="M2449,1317 L2449,1335 A57,32 0 0 0 2563,1335 L2563,1317 Z" fill="#f0a24a"/>
 <ellipse cx="2506" cy="1317" rx="57" ry="32" fill="#f7c46c"/>
 <path d="M2449,1297 L2449,1315 A57,32 0 0 0 2563,1315 L2563,1297 Z" fill="#f0a24a"/>
 <ellipse cx="2506" cy="1297" rx="57" ry="32" fill="#f7c46c"/>
</g>
<g fill="none" stroke="#e8a04a" stroke-width="4">
 <ellipse cx="2226" cy="1437" rx="44" ry="24"/>
 <ellipse cx="2372" cy="1393" rx="43" ry="23"/>
 <ellipse cx="2506" cy="1297" rx="43" ry="23"/>
</g>
<g font-size="46" font-weight="bold" fill="#e8963e" text-anchor="middle">
 <text transform="translate(2226,1452) scale(1,0.8)">$</text>
 <text transform="translate(2372,1408) scale(1,0.8)">$</text>
 <text transform="translate(2506,1312) scale(1,0.8)">$</text>
</g>
<path d="M2703,1368 Q2710,1416 2755,1423 Q2710,1430 2703,1478 Q2696,1430 2651,1423 Q2696,1416 2703,1368 Z" fill="#f6fbfd"/>
</svg>
</body></html>
